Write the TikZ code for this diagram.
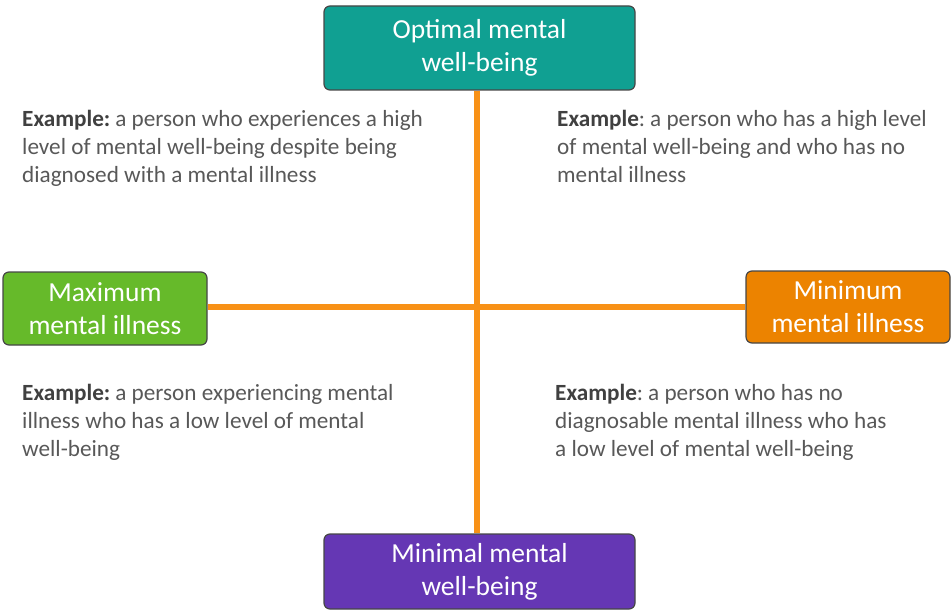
\documentclass[tikz,border=0pt]{standalone}
\usepackage{fontspec}
\setmainfont{Carlito}
\definecolor{teal1}{RGB}{16,160,146}
\definecolor{green1}{RGB}{102,186,42}
\definecolor{orange1}{RGB}{236,131,0}
\definecolor{purple1}{RGB}{101,55,180}
\definecolor{axis}{RGB}{248,145,22}
\definecolor{bodytext}{RGB}{88,88,88}
\definecolor{boldtext}{RGB}{64,64,64}
\definecolor{boxline}{RGB}{70,70,70}
\begin{document}
\begin{tikzpicture}[x=1pt,y=-1pt,
  box/.style={draw=boxline, line width=1.2pt, rounded corners=6pt, text=white, align=center,
    font=\fontsize{27.5}{33}\selectfont, inner sep=0pt},
  example/.style={anchor=base west, align=left, inner sep=0pt, text=bodytext,
    font=\fontsize{23.2}{28}\selectfont},
  axisline/.style={draw=axis, line width=5.5pt}]
\useasboundingbox (0,0) rectangle (952,612);
\coordinate (c) at (477,307);
\node[box, fill=teal1, minimum width=311pt, minimum height=84pt] (top) at (479.5,48) {Optimal mental\\well-being};
\node[box, fill=green1, minimum width=204pt, minimum height=73pt] (left) at (105,308.5) {Maximum\\mental illness};
\node[box, fill=orange1, minimum width=204pt, minimum height=72pt] (right) at (848,307) {Minimum\\mental illness};
\node[box, fill=purple1, minimum width=311pt, minimum height=75pt] (bot) at (479.5,571.5) {Minimal mental\\well-being};
\draw[axisline] (top.south -| c) -- (bot.north -| c);
\draw[axisline] (left.east |- c) -- (right.west |- c);
\node[example] (tl) at (22,183) {\textcolor{boldtext}{\textbf{Example:}}\hspace{-2pt} a person who experiences a high\\level of mental well-being despite being\\diagnosed with a mental illness};
\node[example] (tr) at (557,183) {\textcolor{boldtext}{\textbf{Example}}:\hspace{-2pt} a person who has a high level\\of mental well-being and who has no\\mental illness};
\node[example] (bl) at (22,456) {\textcolor{boldtext}{\textbf{Example:}}\hspace{-2pt} a person experiencing mental\\illness who has a low level of mental\\well-being};
\node[example] (br) at (555,456) {\textcolor{boldtext}{\textbf{Example}}:\hspace{-2pt} a person who has no\\diagnosable mental illness who has\\a low level of mental well-being};
\end{tikzpicture}
\end{document}
